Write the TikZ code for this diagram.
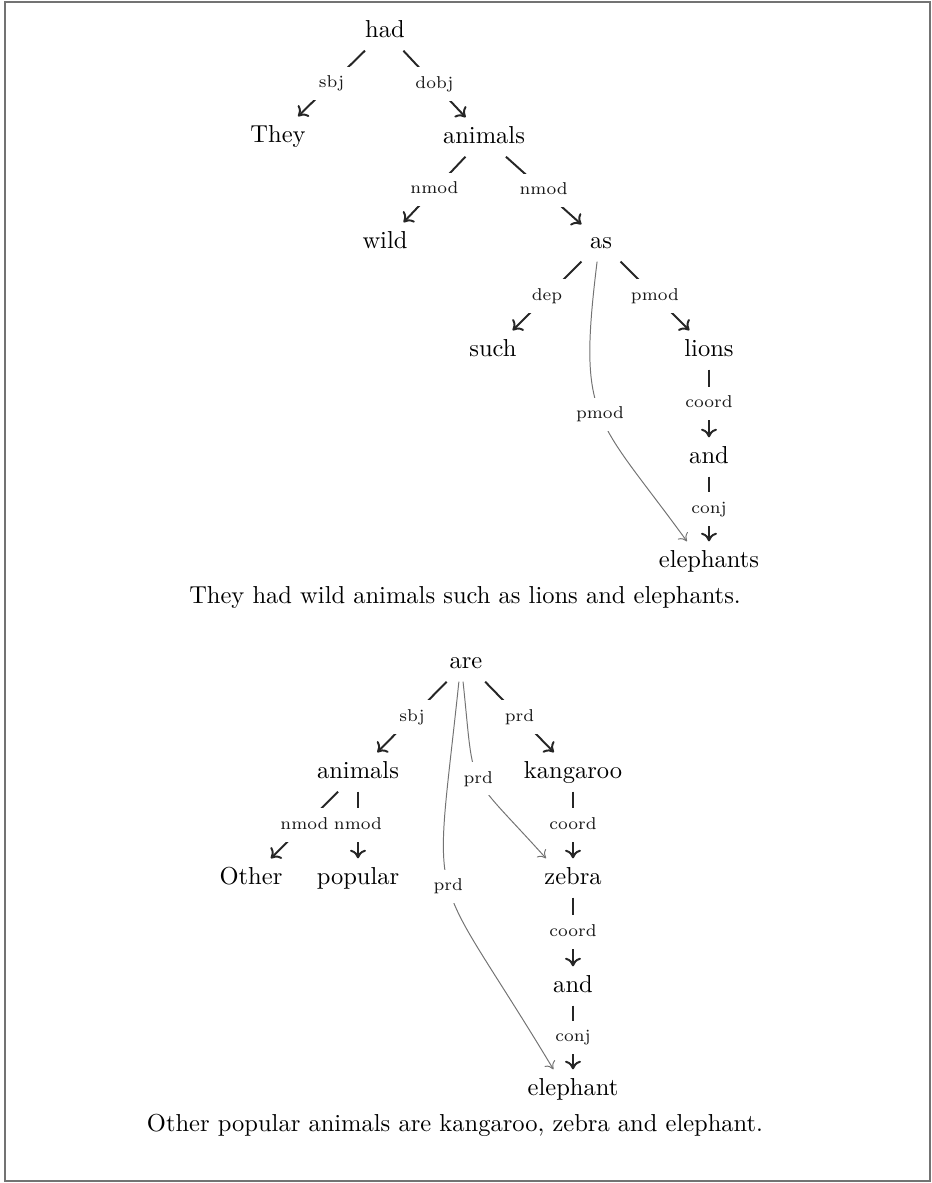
\documentclass[tikz,border=0pt]{standalone}
\usetikzlibrary{arrows.meta}
\tikzset{
word/.style = {inner sep=3.33pt, text height=7pt, text depth=2pt},
rel/.style  = {font=\scriptsize, text=black!90, fill=white, inner xsep=2.5pt, inner ysep=3.5pt, text height=5pt, text depth=1.5pt},}

\begin{document}
\begin{tikzpicture}[x=0.408pt, y=-0.408pt]
    \tikzset{head/.style={-{To[length=3.5pt,width=6.5pt]}, thick, black!85}, cross/.style={-{To[length=3pt,width=5pt]}, thin, black!55}};
    \useasboundingbox (0,0) rectangle (932,1183);
    \draw[black!55, line width=0.9pt] (5,2) rectangle (930,1181);

    \node[word] (had) at (385,31) {had};
    \node[word] (they) at (278,136) {They};
    \node[word] (animals) at (484,137) {animals};
    \node[word] (wild) at (385,242) {wild};
    \node[word] (as) at (601,242) {as};
    \node[word] (such) at (493,350) {such};
    \node[word] (lions) at (709,350) {lions};
    \node[word] (and) at (709,457) {and};
    \node[word] (elephants) at (709,561) {elephants};
    \node[anchor=base] (capa) at (465,603) {They had wild animals such as lions and elephants.};

    \draw[head] (had) -- node[rel]{sbj} (they);
    \draw[head] (had) -- node[rel]{dobj} (animals);
    \draw[head] (animals) -- node[rel]{nmod} (wild);
    \draw[head] (animals) -- node[rel]{nmod} (as);
    \draw[head] (as) -- node[rel]{dep} (such);
    \draw[head] (as) -- node[rel]{pmod} (lions);
    \draw[head] (lions) -- node[rel]{coord} (and);
    \draw[head] (and) -- node[rel]{conj} (elephants);
    \draw[cross] ([xshift=-1.6pt]as.south) to[out=-97, in=126, out distance=66pt, in distance=64pt] node[rel]{pmod} ([xshift=-9pt]elephants.north);

    \node[word] (are) at (466,662) {are};
    \node[word] (animalsb) at (358,772) {animals};
    \node[word] (kangaroo) at (573,772) {kangaroo};
    \node[word] (other) at (251,878) {Other};
    \node[word] (popular) at (358,878) {popular};
    \node[word] (zebra) at (573,878) {zebra};
    \node[word] (andb) at (573,986) {and};
    \node[word] (elephant) at (573,1089) {elephant};
    \node[anchor=base] (capb) at (455,1131) {Other popular animals are kangaroo, zebra and elephant.};

    \draw[head] (are) -- node[rel]{sbj} (animalsb);
    \draw[head] (are) -- node[rel]{prd} (kangaroo);
    \draw[head] (animalsb) -- node[rel]{nmod} (other);
    \draw[head] (animalsb) -- node[rel]{nmod} (popular);
    \draw[head] (kangaroo) -- node[rel]{coord} (zebra);
    \draw[head] (zebra) -- node[rel]{coord} (andb);
    \draw[head] (andb) -- node[rel]{conj} (elephant);
    \draw[cross] ([xshift=-1.2pt]are.south) to[out=-84, in=132, out distance=47pt, in distance=50pt] node[rel]{prd} ([xshift=-11pt]zebra.north);
    \draw[cross] ([xshift=-2.9pt]are.south) to[out=-96, in=121, out distance=100pt, in distance=102pt] node[rel]{prd} ([xshift=-8pt]elephant.north);
\end{tikzpicture}
\end{document}
